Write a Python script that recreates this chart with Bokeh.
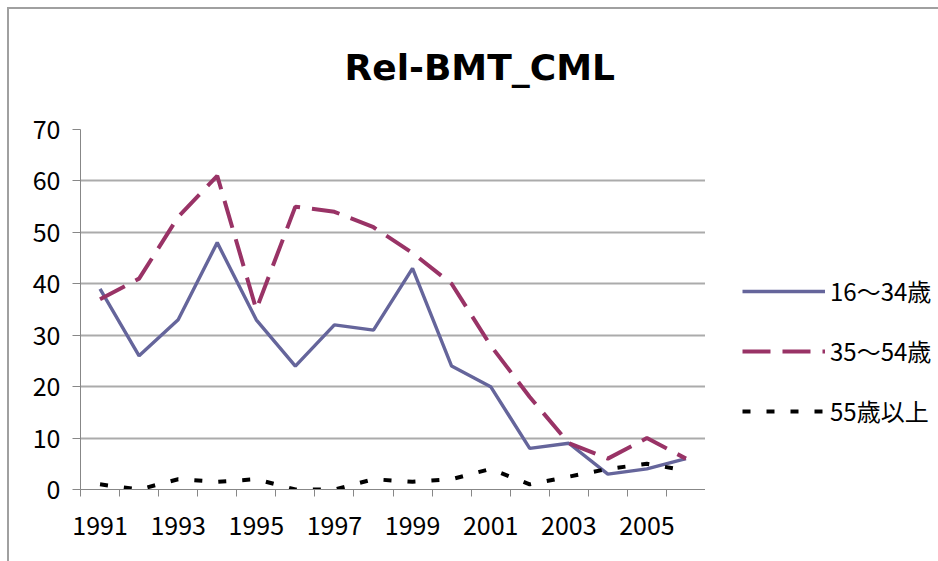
from bokeh.plotting import figure
from bokeh.layouts import row
from bokeh.models import Range1d, FixedTicker, Legend, LegendItem, Title
from bokeh.embed import file_html
from bokeh.resources import INLINE

years = list(range(1991, 2007))
age_16_34 = [39, 26, 33, 48, 33, 24, 32, 31, 43, 24, 20, 8, 9, 3, 4, 6]
age_35_54 = [37, 41, 53, 61, 35, 55, 54, 51, 46, 40, 28, 18, 9, 6, 10, 6]
age_55_up = [1, 0, 2, 1.5, 2, 0, 0, 2, 1.5, 2, 4, 1, 2.5, 4, 5, 3.7]
label_years = [1991, 1993, 1995, 1997, 1999, 2001, 2003, 2005]
series_names = ["16～34歳", "35～54歳", "55歳以上"]
y_ticks = [0, 10, 20, 30, 40, 50, 60, 70]

FONT = "Noto Sans CJK JP"
styles = [
    dict(line_color="#65659B", line_width=3.4),
    dict(line_color="#993366", line_width=4, line_dash="28 12"),
    dict(line_color="black", line_width=4, line_dash="8 16"),
]
series = [age_16_34, age_35_54, age_55_up]

p = figure(width=705, height=561, output_backend="svg", toolbar_location=None,
           x_range=Range1d(years[0] - 0.5, years[-1] + 0.5),
           y_range=Range1d(0, 70),
           min_border_left=80, min_border_right=0,
           min_border_top=129, min_border_bottom=72)
p.outline_line_color = None
p.background_fill_color = "white"
p.border_fill_alpha = 0

# axes
p.xaxis.ticker = FixedTicker(ticks=label_years,
                             minor_ticks=[y - 0.5 for y in years] + [years[-1] + 0.5])
p.xaxis.major_tick_line_color = None
p.xaxis.major_tick_out = 7
p.xaxis.major_tick_in = 0
p.xaxis.minor_tick_out = 7
p.xaxis.minor_tick_in = 0
p.xaxis.minor_tick_line_color = "#878787"
p.xaxis.axis_line_color = "#878787"
p.xaxis.major_label_standoff = 19
p.xaxis.major_label_text_font = FONT
p.xaxis.major_label_text_font_size = "25px"
p.xaxis.major_label_text_color = "black"

p.yaxis.ticker = FixedTicker(ticks=y_ticks)
p.yaxis.major_tick_out = 8
p.yaxis.major_tick_in = 0
p.yaxis.minor_tick_line_color = None
p.yaxis.major_tick_line_color = "#878787"
p.yaxis.axis_line_color = "#878787"
p.yaxis.major_label_standoff = 12
p.yaxis.major_label_text_font = FONT
p.yaxis.major_label_text_font_size = "25px"
p.yaxis.major_label_text_color = "black"

p.xgrid.grid_line_color = None
p.ygrid.grid_line_color = "#ABABAB"
p.ygrid.grid_line_width = 2

for vals, st in zip(series, styles):
    p.line(years, vals, **st)

p.title = Title(text="Rel-BMT_CML", align="left", offset=264, standoff=83,
                text_font="DejaVu Sans", text_font_style="bold", text_font_size="36px",
                text_color="black")

# legend panel (its lines fall outside its own 0..1 ranges, so only the legend shows)
pl = figure(width=233, height=561, output_backend="svg", toolbar_location=None,
            x_range=Range1d(0, 1), y_range=Range1d(0, 1),
            x_axis_location=None, y_axis_location=None, min_border=0)
pl.outline_line_color = None
pl.grid.visible = False
pl.background_fill_alpha = 0
pl.border_fill_alpha = 0
items = []
for name, vals, st in zip(series_names, series, styles):
    r = pl.line(years, vals, **st)
    items.append(LegendItem(label=name, renderers=[r]))
legend = Legend(items=items, location=(37, 61), orientation="vertical",
                glyph_width=83, glyph_height=20, spacing=25,
                label_standoff=5, padding=0, margin=0,
                border_line_color=None, background_fill_alpha=0,
                label_text_font=FONT, label_text_font_size="24px",
                label_text_color="black")
pl.add_layout(legend, "center")

layout = row(p, pl, spacing=0)
layout.styles = {
    "background": "linear-gradient(#A0A0A0,#A0A0A0) 7px 7px / 2px 100% no-repeat, "
                  "linear-gradient(#A0A0A0,#A0A0A0) 7px 7px / 100% 2px no-repeat, white"
}

open("out.html", "w").write(file_html(layout, INLINE))
